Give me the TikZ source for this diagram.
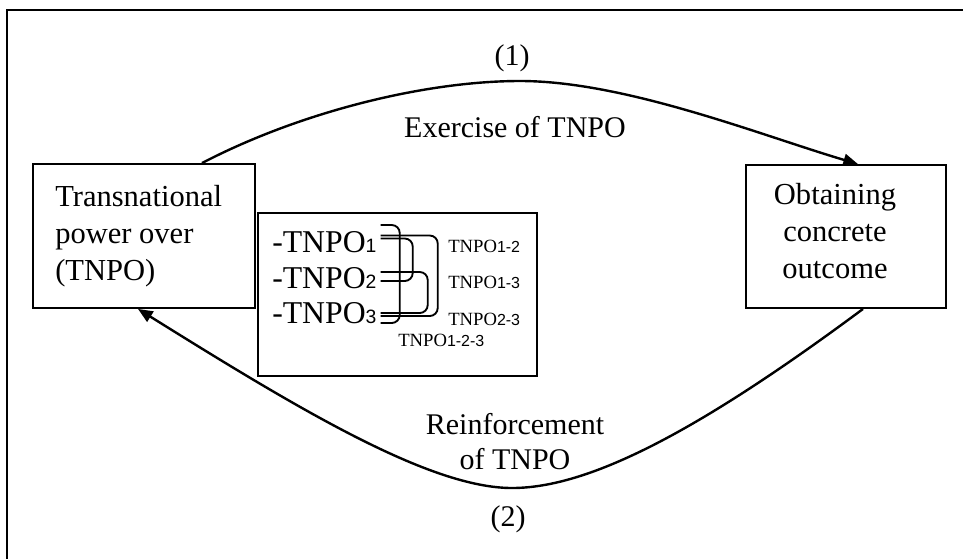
\documentclass[tikz,border=0pt]{standalone}
\usepackage{fontspec}
\setmainfont{Liberation Serif}
\newfontfamily\digfont{Liberation Sans}
\usetikzlibrary{arrows.meta,calc}
\newcommand\pxu{0.75pt}
\newcommand\listdig[1]{{\digfont\fontsize{14.5pt}{14.5pt}\selectfont #1}}
\newcommand\labdig[1]{{\digfont\fontsize{12pt}{12pt}\selectfont #1}}
\begin{document}
\begin{tikzpicture}[x=0.75pt,y=-0.75pt,
  box/.style={draw,line width=1.4pt,inner sep=0pt},
  big/.style={inner sep=0pt,font=\fontsize{22.9pt}{27.75pt}\selectfont},
  lbl/.style={inner sep=0pt,font=\fontsize{22.5pt}{26.25pt}\selectfont},
  item/.style={inner sep=0pt,anchor=base west,font=\fontsize{23.8pt}{28pt}\selectfont},
  lab/.style={inner sep=0pt,anchor=base west,font=\fontsize{14pt}{16pt}\selectfont},
  br/.style={line width=1.4pt,rounded corners=6pt},
  arr/.style={line width=1.8pt,-{Triangle[length=11pt,width=9pt]}}]
\useasboundingbox (0,0) rectangle (963,558);
\draw[line width=1.8pt] (7,560) -- (7,10) -- (966,10);
% boxes
\node[box,minimum width=222*\pxu,minimum height=144*\pxu] (lb) at (144,236) {};
\node[big,align=left,anchor=west] (lbt) at (55,236) {Transnational\\power over\\(TNPO)};
\node[box,minimum width=200*\pxu,minimum height=143*\pxu] (ob) at (846,236.5) {};
\node[big,align=center] (obt) at (835,231) {Obtaining\\concrete\\outcome};
\node[box,line width=1.8pt,minimum width=279*\pxu,minimum height=163*\pxu] (mb) at (397.5,294.5) {};
% list
\node[item] (t1) at (272,252) {-TNPO\listdig{1}};
\node[item] (t2) at (272,288) {-TNPO\listdig{2}};
\node[item] (t3) at (272,323) {-TNPO\listdig{3}};
\node[lab] (l12) at (448,252) {TNPO\labdig{1-2}};
\node[lab] (l13) at (448,288) {TNPO\labdig{1-3}};
\node[lab] (l23) at (448,325) {TNPO\labdig{2-3}};
\node[lab] (l123) at (398,346) {TNPO\labdig{1-2-3}};
% brackets
\draw[br] ($(t1.base east)+(4,-27)$) -- ++(19,0) |- ($(t3.base east)+(4,0)$);
\draw[br] ($(t1.base east)+(4,-16.5)$) -- ++(57,0) |- ($(t3.base east)+(4,-7)$);
\draw[br] ($(t1.base east)+(4,-13.5)$) -- ++(32,0) |- ($(t2.base east)+(4,-7)$);
\draw[br] ($(t2.base east)+(4,-16)$) -- ++(47,0) |- ($(t3.base east)+(4,-10)$);
% arrows
\draw[arr] ($(lb.north)+(58,0)$) .. controls (300,112) and (425,81) .. (520,81) .. controls (625,81) and (760,135) .. ($(ob.north)+(12,0)$);
\draw[arr] ($(ob.south)+(17,0)$) .. controls (700,430) and (590,488) .. (512,488) .. controls (430,488) and (300,410) .. ($(lb.south)+(-6,0)$);
% labels
\node[lbl] (n1) at (512,58) {(1)};
\node[lbl] (ex) at (515,127) {Exercise of TNPO};
\node[lbl,align=center] (re) at (515,442) {Reinforcement\\of TNPO};
\node[lbl] (n2) at (508,519.5) {(2)};
\end{tikzpicture}
\end{document}
